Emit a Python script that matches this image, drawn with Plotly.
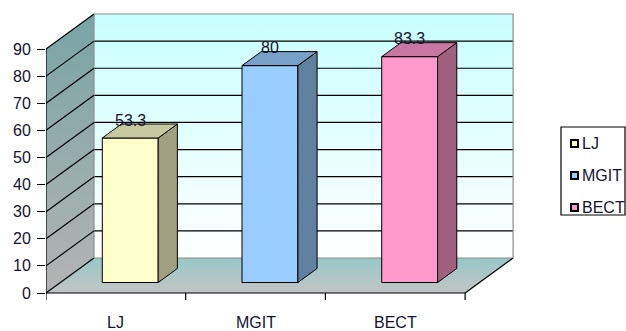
import plotly.graph_objects as go

# ---------------- data ----------------
categories = ["LJ", "MGIT", "BECT"]
values = [53.3, 80, 83.3]
value_labels = ["53.3", "80", "83.3"]
y_ticks = [0, 10, 20, 30, 40, 50, 60, 70, 80, 90]

# ---------------- styles ----------------
front_colors = ["#ffffcc", "#99ccff", "#ff99cc"]
side_colors = ["#a0a080", "#6080a0", "#a06080"]
top_colors = ["#c8c8a0", "#78a0c8", "#c878a0"]
TEXT = "#14142e"
FONT = "Liberation Sans, Arial, sans-serif"

# ---------------- geometry ----------------
W, H = 626, 331
ML, MR, MT, MB = 46, 0, 10, 26
PX_PER_CAT = 139.7
PX_PER_VAL = 2.711
ZERO_PX = 293
DX = 48 / PX_PER_CAT          # depth offset in category units
DY = 35 / PX_PER_VAL          # depth offset in value units
VMAX = y_ticks[-1]
NCAT = len(categories)
plot_w = W - ML - MR
x_range = [0, plot_w / PX_PER_CAT]
y_range = [(ZERO_PX - (H - MB)) / PX_PER_VAL, (ZERO_PX - MT) / PX_PER_VAL]


def px2x(px):
    return (px - ML) / PX_PER_CAT


def px2y(py):
    return (ZERO_PX - py) / PX_PER_VAL


def P(c, v, d):
    return c + d * DX, v + d * DY


def poly(points, fill=None, line_color=None, width=1.0, gradient=None):
    xs = [p[0] for p in points] + [points[0][0]]
    ys = [p[1] for p in points] + [points[0][1]]
    kw = dict(x=xs, y=ys, mode="lines", hoverinfo="skip", showlegend=False,
              line=dict(color=line_color if line_color else "rgba(0,0,0,0)", width=width))
    if fill or gradient:
        kw["fill"] = "toself"
        if fill:
            kw["fillcolor"] = fill
        if gradient:
            kw["fillgradient"] = gradient
    return go.Scatter(**kw)


def segs(pairs, color, width=1.0):
    xs, ys = [], []
    for a, b in pairs:
        xs += [a[0], b[0], None]
        ys += [a[1], b[1], None]
    return go.Scatter(x=xs, y=ys, mode="lines", hoverinfo="skip", showlegend=False,
                      line=dict(color=color, width=width))


fig = go.Figure()

# back wall
fig.add_trace(poly([P(0, 0, 1), P(NCAT, 0, 1), P(NCAT, VMAX, 1), P(0, VMAX, 1)],
                   fill="#ccffff",
                   gradient=dict(type="vertical", colorscale=[[0, "#ffffff"], [1, "#c8ffff"]])))
# left wall
fig.add_trace(poly([P(0, 0, 0), P(0, 0, 1), P(0, VMAX, 1), P(0, VMAX, 0)],
                   fill="#a0a0a0",
                   gradient=dict(type="vertical", colorscale=[[0, "#b4b4b4"], [1, "#78a4a4"]])))
# floor
fig.add_trace(poly([P(0, 0, 0), P(NCAT, 0, 0), P(NCAT, 0, 1), P(0, 0, 1)],
                   fill="#b0c8c8",
                   gradient=dict(type="vertical", colorscale=[[0, "#c4c4c4"], [1, "#98c8c8"]])))

# back wall gridlines
fig.add_trace(segs([(P(0, v, 1), P(NCAT, v, 1)) for v in y_ticks[1:-1]], "#000000", 1.2))
# back wall border
fig.add_trace(poly([P(0, 0, 1), P(NCAT, 0, 1), P(NCAT, VMAX, 1), P(0, VMAX, 1)],
                   line_color="#8c8c8c", width=1.2))
# left wall gridlines
fig.add_trace(segs([(P(0, v, 0), P(0, v, 1)) for v in y_ticks], "#000000", 1.2))
# front value axis line, category axis line and floor right edge
fig.add_trace(segs([(P(0, 0, 0), P(0, VMAX, 0)),
                    (P(0, 0, 0), P(NCAT, 0, 0)),
                    (P(NCAT, 0, 0), P(NCAT, 0, 1))], "#000000", 1.2))
# category ticks
tick_len = 7 / PX_PER_VAL
fig.add_trace(segs([((c, 0), (c, -tick_len)) for c in range(NCAT + 1)], "#000000", 1.2))

# bars
d0, d1 = 0.3, 0.7
for i, v in enumerate(values):
    c0, c1 = i + 0.3, i + 0.7
    fig.add_trace(poly([P(c0, 0, d0), P(c1, 0, d0), P(c1, v, d0), P(c0, v, d0)],
                       fill=front_colors[i], line_color="#000000", width=1))
    fig.add_trace(poly([P(c1, 0, d0), P(c1, 0, d1), P(c1, v, d1), P(c1, v, d0)],
                       fill=side_colors[i], line_color="#000000", width=1))
    fig.add_trace(poly([P(c0, v, d0), P(c1, v, d0), P(c1, v, d1), P(c0, v, d1)],
                       fill=top_colors[i], line_color="#000000", width=1))
    lx, ly = P(i + 0.5, v, d0)
    fig.add_annotation(x=lx, y=ly, text=value_labels[i], showarrow=False,
                       yshift=18, yanchor="middle", xanchor="center",
                       font=dict(family=FONT, size=16, color=TEXT))
    fig.add_annotation(x=i + 0.5, y=0, text=categories[i], showarrow=False,
                       yshift=-29, yanchor="middle", xanchor="center",
                       font=dict(family=FONT, size=16, color=TEXT))

# manual legend
fig.add_shape(type="rect", x0=px2x(561), x1=px2x(625), y0=px2y(215), y1=px2y(127),
              line=dict(color="#000000", width=1.2), fillcolor="white", layer="below")
leg_y = [px2y(143.5 + 32 * k) for k in range(NCAT)]
fig.add_trace(go.Scatter(x=[px2x(574.5)] * NCAT, y=leg_y, mode="markers", hoverinfo="skip",
                         showlegend=False, cliponaxis=False,
                         marker=dict(symbol="square", size=7, color=front_colors,
                                     line=dict(color="#000000", width=2))))
for k, name in enumerate(categories):
    fig.add_annotation(x=px2x(580), y=leg_y[k], text=name, showarrow=False,
                       xanchor="left", yanchor="middle",
                       font=dict(family=FONT, size=16, color=TEXT))

fig.update_layout(
    width=W, height=H,
    margin=dict(l=ML, r=MR, t=MT, b=MB, pad=0),
    paper_bgcolor="white", plot_bgcolor="white",
    showlegend=False,
    xaxis=dict(range=x_range, visible=False, fixedrange=True),
    yaxis=dict(range=y_range, tickvals=y_ticks, ticks="outside", ticklen=8,
               tickcolor="#000000", tickwidth=1.2, showline=False, showgrid=False,
               zeroline=False, ticklabelstandoff=3,
               tickfont=dict(family=FONT, size=16, color=TEXT), fixedrange=True),
)

fig.write_html("out.html")
